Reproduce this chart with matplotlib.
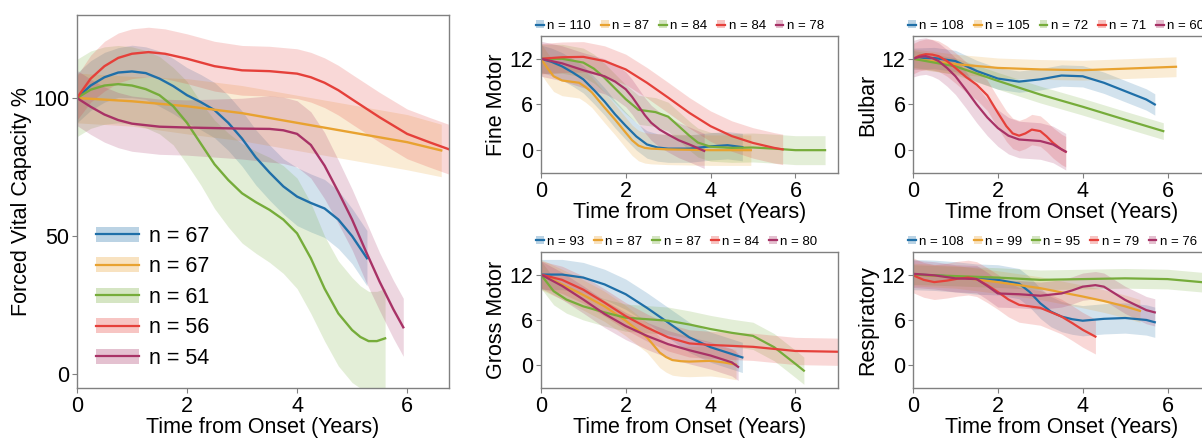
import matplotlib
matplotlib.use("Agg")
import matplotlib.pyplot as plt
from matplotlib.patches import Patch
from matplotlib.lines import Line2D
import numpy as np

plt.rcParams['font.family'] = ['Liberation Sans', 'DejaVu Sans']

colors = ['#1f6fa8', '#e8a230', '#76ac3a', '#e5403a', '#a83266']

# --- Forced Vital Capacity (left panel) ---
fvc_n = [67, 67, 61, 56, 54]
fvc_t = [
    [0, .25, .5, .75, 1, 1.25, 1.5, 1.75, 2, 2.25, 2.5, 2.75, 3, 3.25, 3.5, 3.75, 4, 4.25, 4.5, 4.75, 5, 5.27],
    [0, 1, 2, 3, 4, 5, 6, 6.62],
    [0, .25, .5, .75, 1, 1.25, 1.5, 1.75, 2, 2.25, 2.5, 2.75, 3, 3.25, 3.5, 3.75, 4, 4.25, 4.5, 4.75, 5, 5.15, 5.3, 5.45, 5.6],
    [0, .25, .5, .75, 1, 1.3, 1.6, 2, 2.5, 3, 3.5, 4, 4.25, 4.5, 4.75, 5, 5.5, 6, 6.4, 6.75],
    [0, .25, .5, .75, 1, 1.5, 2, 3, 3.5, 3.75, 4, 4.25, 4.5, 4.75, 5, 5.25, 5.5, 5.75, 5.93],
]
fvc_mean = [
    [100, 104.5, 107.5, 109.2, 109.6, 109, 107, 104.3, 101, 98.5, 95.6, 91, 85.3, 78.5, 73, 68, 64.3, 62, 60, 56, 50, 42],
    [100, 98.8, 97, 94.5, 91, 87.5, 84, 81],
    [100, 103, 104.5, 105, 104.5, 103.2, 101, 97, 91, 83.5, 76, 70.3, 65.5, 62.3, 59.5, 56, 51, 42, 31, 22, 16, 13.5, 12, 12, 13],
    [100, 107, 111.5, 114.5, 116, 116.6, 116, 114.2, 111.5, 110, 109.7, 108.8, 107.5, 105.5, 102.8, 99.5, 93, 87, 84, 81.5],
    [100, 96.8, 94, 92, 90.7, 89.6, 89.3, 88.9, 88.8, 88.3, 87, 83, 75.5, 66, 56, 44.5, 33.5, 23.5, 17],
]
fvc_ci = [
    [9, 9, 9, 9, 9.5, 9.5, 10, 10, 10, 10, 10, 10, 10, 10, 10, 10, 10.5, 10.5, 10.5, 10.5, 10, 10],
    [9, 9, 10, 10, 10, 10, 10, 9.5],
    [14, 14, 14, 14, 14, 14, 14, 14, 15, 15, 16, 17, 18, 18.5, 19, 19.5, 20, 20, 19, 19, 19, 18.5, 18, 18, 18],
    [8, 8.5, 9, 9, 9, 9, 9, 9, 9, 9, 9, 9, 9, 9, 9, 9, 9, 9, 9, 9],
    [10, 10, 10, 10, 10, 10, 10, 11, 12, 12, 12, 12, 12, 11.5, 11, 11, 10.5, 10.5, 10.5],
]

# --- Fine Motor ---
fine_n = [110, 87, 84, 84, 78]
fine_t = [
    [0, .25, .5, .75, 1, 1.25, 1.5, 1.75, 2, 2.25, 2.5, 2.75, 3, 3.5, 4, 4.4, 4.75],
    [0, .15, .3, .5, .7, .9, 1.05, 1.2, 1.35, 1.5, 1.75, 2, 2.15, 2.3, 2.45, 2.6, 3, 4, 4.95],
    [0, .5, 1, 1.25, 1.5, 1.75, 2, 2.3, 2.7, 3, 3.3, 3.5, 3.7, 4, 4.5, 5, 5.5, 6, 6.7],
    [0, .5, 1, 1.5, 2, 2.5, 3, 3.5, 4, 4.5, 5, 5.5, 5.7],
    [0, .5, 1, 1.5, 1.75, 2, 2.15, 2.3, 2.45, 2.6, 2.8, 3, 3.25, 3.5, 3.85],
]
fine_mean = [
    [12, 11.6, 11, 10.2, 9.3, 7.9, 6.4, 4.7, 3.2, 1.8, .75, .35, .2, .2, .5, .65, .4],
    [12, 10.8, 9.7, 9.15, 9, 8.85, 8.3, 7.6, 6.6, 5.6, 4.0, 2.3, 1.3, .6, .3, .2, .1, 0, 0],
    [12, 12, 11.5, 10.7, 9.5, 8.1, 6.7, 5.3, 5.0, 4.4, 2.9, 1.9, 1.0, .45, .3, .35, .2, 0, 0],
    [12, 12.2, 12.25, 11.7, 10.6, 8.85, 6.9, 4.9, 3.15, 1.85, .95, .3, .1],
    [12, 11.4, 10.5, 9.7, 9.0, 8.0, 7.0, 5.8, 4.6, 3.6, 2.7, 2.05, 1.3, .75, -.1],
]
fine_ci = [1.8, 2.0, 1.9, 2.0, 2.3]

# --- Bulbar ---
bulbar_n = [108, 105, 72, 71, 60]
bulbar_t = [
    [0, .5, 1, 1.5, 2, 2.5, 3, 3.5, 4, 4.5, 5, 5.5, 5.7],
    [0, 1, 2, 3, 4, 5, 6.2],
    [0, 1, 2, 3, 4, 5, 5.9],
    [0, .15, .3, .45, .6, .8, 1, 1.25, 1.5, 1.75, 2, 2.2, 2.35, 2.5, 2.65, 2.8, 3, 3.15, 3.3, 3.5, 3.6],
    [0, .15, .3, .45, .6, .8, 1, 1.25, 1.5, 1.75, 2, 2.25, 2.5, 3, 3.3, 3.6],
]
bulbar_mean = [
    [12, 12.1, 11.7, 10.4, 9.4, 9.0, 9.3, 9.8, 9.7, 8.85, 7.75, 6.65, 6.0],
    [12, 11.3, 10.8, 10.6, 10.5, 10.7, 10.95],
    [12, 11, 9.1, 7.3, 5.7, 4.0, 2.5],
    [12, 12.4, 12.6, 12.55, 12.35, 11.7, 10.8, 9.6, 8.6, 7.2, 4.9, 3.15, 2.2, 1.9, 2.2, 2.7, 2.5, 1.8, .96, .1, -.2],
    [12, 12.25, 12.35, 12.1, 11.7, 10.8, 9.7, 7.9, 6.0, 4.3, 2.9, 1.9, 1.4, 1.2, .75, -.2],
]
bulbar_ci = [1.4, 1.3, 1.1, 2.0, 2.4]

# --- Gross Motor ---
gross_n = [93, 87, 87, 84, 80]
gross_t = [
    [0, .5, 1, 1.5, 2, 2.5, 3, 3.5, 4, 4.5, 4.75],
    [0, .5, 1, 1.5, 2, 2.5, 2.65, 2.8, 2.95, 3.1, 3.3, 3.5, 4, 4.3, 4.6],
    [0, .3, .6, 1, 1.5, 2, 2.5, 3, 3.5, 4, 4.5, 5, 5.5, 6, 6.2],
    [0, .5, 1, 1.5, 2, 2.5, 3, 3.5, 4, 5, 6, 7],
    [0, .5, 1, 1.5, 2, 2.5, 3, 3.5, 4, 4.5, 4.65],
]
gross_mean = [
    [12, 12, 11.6, 10.7, 9.4, 7.6, 5.65, 3.7, 2.4, 1.5, 1.05],
    [12, 10.7, 9.3, 7.8, 5.9, 3.7, 2.7, 1.7, 1.1, .7, .55, .5, .6, .4, .1],
    [12, 9.8, 8.7, 7.8, 7.0, 6.3, 6.1, 5.9, 5.4, 4.8, 4.3, 3.9, 2.4, .2, -.7],
    [12, 11.3, 10, 8.3, 6.5, 5, 3.7, 2.9, 2.7, 2.45, 1.9, 1.8],
    [12, 10.5, 8.7, 6.8, 5.2, 3.9, 2.8, 2.0, 1.3, .4, -.2],
]
gross_ci = [2.0, 2.0, 1.8, 1.8, 1.8]

# --- Respiratory ---
resp_n = [108, 99, 95, 79, 76]
resp_t = [
    [0, .5, 1, 1.5, 2, 2.5, 2.75, 3, 3.25, 3.5, 3.75, 4, 4.5, 5, 5.5, 5.7],
    [0, 1, 2, 3, 4, 4.5, 5, 5.35],
    [0, 1, 2, 3, 4, 5, 6, 7],
    [0, .25, .5, .8, 1.05, 1.3, 1.5, 1.75, 2, 2.25, 2.5, 3, 3.5, 3.75, 4, 4.3],
    [0, .5, 1, 1.5, 1.75, 2, 2.5, 3, 3.5, 3.75, 4, 4.3, 4.5, 4.7, 5, 5.5, 5.7],
]
resp_mean = [
    [12, 11.9, 11.7, 11.4, 11.3, 10.8, 9.7, 8.2, 7.1, 6.45, 6.1, 5.9, 6.15, 6.26, 6.0, 5.7],
    [12, 11.7, 11, 10.2, 9.1, 8.5, 7.8, 7.2],
    [12, 11.8, 11.6, 11.3, 11.4, 11.5, 11.4, 10.9],
    [11.9, 11.3, 11, 11.2, 11.45, 11.6, 11.4, 10.6, 9.7, 8.7, 8, 7.6, 6.45, 5.6, 4.7, 3.8],
    [12.1, 11.9, 11.5, 11.4, 10.5, 9.5, 9.4, 9.2, 9.5, 9.9, 10.4, 10.6, 10.4, 9.7, 8.65, 7.3, 7.0],
]
resp_ci = [2.0, 1.5, 1.3, 2.3, 1.8]


def style_axes(ax):
    for sp in ax.spines.values():
        sp.set_color('#808080')
        sp.set_linewidth(1.0)
    ax.tick_params(direction='out', length=3.5, color='#808080', labelsize=15.5, pad=2)


def draw_panel(ax, ts, means, cis, lw):
    for t, m, ci, c in zip(ts, means, cis, colors):
        t = np.asarray(t, float)
        m = np.asarray(m, float)
        ci = np.broadcast_to(np.asarray(ci, float), m.shape)
        ax.fill_between(t, m - ci, m + ci, color=c, alpha=0.2, lw=0)
    for t, m, c in zip(ts, means, colors):
        ax.plot(t, m, color=c, lw=lw, solid_joinstyle='round')


def legend_handles():
    return [(Patch(facecolor=c, alpha=0.3, lw=0), Line2D([], [], color=c, lw=1.6)) for c in colors]


fig = plt.figure(figsize=(12.02, 4.38), dpi=100)

# left panel
ax0 = fig.add_axes([0.064, 0.114, 0.3095, 0.8516])
draw_panel(ax0, fvc_t, fvc_mean, fvc_ci, 1.7)
style_axes(ax0)
ax0.set_xlim(0, 6.76)
ax0.set_ylim(-5, 130)
ax0.set_xticks([0, 2, 4, 6])
ax0.set_yticks([0, 50, 100])
ax0.set_xlabel('Time from Onset (Years)', fontsize=15.5, labelpad=0)
ax0.set_ylabel('Forced Vital Capacity %', fontsize=15.5, labelpad=1)
ax0.legend(legend_handles(), [f'n = {n}' for n in fvc_n], loc='lower left',
           fontsize=15.5, frameon=False, handlelength=2.0, handleheight=0.7,
           handletextpad=0.45, labelspacing=0.44, borderaxespad=0.5)

small = [
    ([0.450, 0.605, 0.247, 0.313], fine_t, fine_mean, fine_ci, fine_n, 'Fine Motor'),
    ([0.7596, 0.605, 0.247, 0.313], bulbar_t, bulbar_mean, bulbar_ci, bulbar_n, 'Bulbar'),
    ([0.450, 0.114, 0.247, 0.311], gross_t, gross_mean, gross_ci, gross_n, 'Gross Motor'),
    ([0.7596, 0.114, 0.247, 0.311], resp_t, resp_mean, resp_ci, resp_n, 'Respiratory'),
]
for rect, ts, ms, cis, ns, label in small:
    ax = fig.add_axes(rect)
    draw_panel(ax, ts, ms, cis, 1.6)
    style_axes(ax)
    ax.set_xlim(0, 7)
    ax.set_ylim(-3, 15)
    ax.set_xticks([0, 2, 4, 6])
    ax.set_yticks([0, 6, 12])
    ax.set_xlabel('Time from Onset (Years)', fontsize=15.5, labelpad=0)
    ax.set_ylabel(label, fontsize=15.5, labelpad=2)
    ax.legend(legend_handles(), [f'n = {n}' for n in ns], loc='lower left',
              bbox_to_anchor=(-0.03, 1.0), ncol=5, fontsize=9.5, frameon=False,
              handlelength=0.6, handleheight=0.6, handletextpad=0.25,
              columnspacing=0.75, borderaxespad=0.1, borderpad=0.2)

fig.savefig('out.png', dpi=100)
